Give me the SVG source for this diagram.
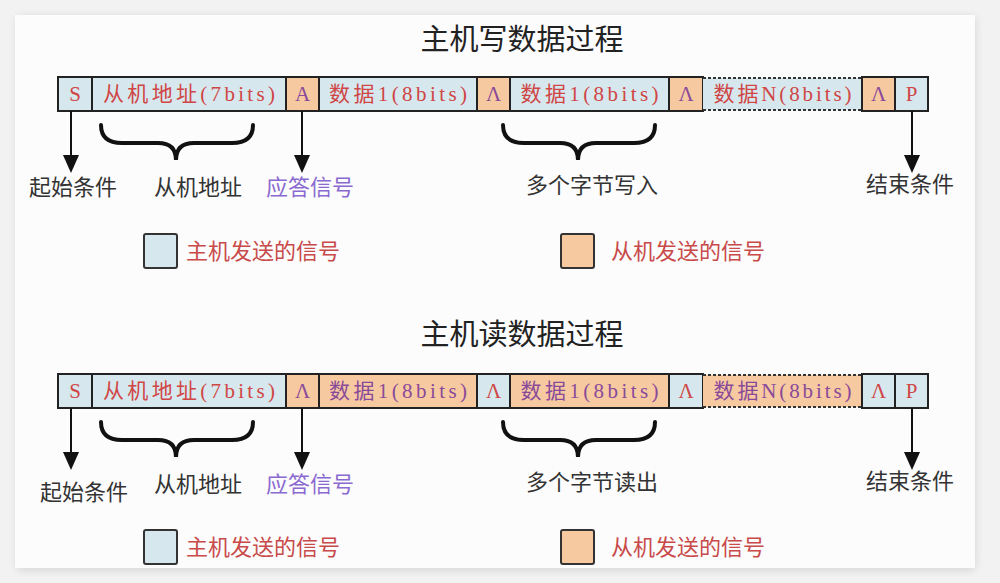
<svg xmlns="http://www.w3.org/2000/svg" width="1000" height="583" viewBox="0 0 1000 583">
<defs>
<style>
.m{fill:#d6e8ee;stroke:#222;stroke-width:2}
.s{fill:#f6c9a0;stroke:#222;stroke-width:2}
.dash{stroke:#333;stroke-width:2;stroke-dasharray:3 2;fill:none}
.bt{font-family:"Liberation Serif","Noto Sans CJK SC",serif;font-size:21px;text-anchor:middle}
.r{fill:#d04545}
.p{fill:#8a4a9a}
.lb{font-family:"Noto Sans CJK SC",sans-serif;font-size:22px;fill:#333;text-anchor:middle}
.pl{fill:#8a6ad0}
.lg{font-family:"Noto Sans CJK SC",sans-serif;font-size:22px;fill:#c84a4a}
.ti{font-family:"Noto Sans CJK SC",sans-serif;font-size:29px;fill:#222;text-anchor:middle}
.ln{stroke:#111;stroke-width:2;fill:none}
.ah{fill:#111}
.br{stroke:#111;stroke-width:4;fill:none;stroke-linecap:round}
</style>
<filter id="sh" x="-5%" y="-5%" width="110%" height="110%"><feGaussianBlur stdDeviation="5"/></filter>
</defs>
<rect width="1000" height="583" fill="#f2f2f2"/>
<rect x="17" y="17" width="958" height="553" fill="#000" opacity="0.12" filter="url(#sh)"/>
<rect x="15" y="15" width="960" height="553" fill="#fcfcfc"/>

<text class="ti" x="522" y="50">主机写数据过程</text>
<text class="ti" x="522" y="345">主机读数据过程</text>

<g id="write-bar">
<rect class="m" x="58" y="77" width="34" height="34"/><text class="bt r" x="75" y="101">S</text>
<rect class="m" x="92" y="77" width="194" height="34"/><text class="bt r" x="189" y="101" textLength="172" lengthAdjust="spacing">从机地址(7bits)</text>
<rect class="s" x="286" y="77" width="33" height="34"/><text class="bt p" x="302.5" y="101">A</text>
<rect class="m" x="319" y="77" width="158" height="34"/><text class="bt r" x="398" y="101" textLength="138" lengthAdjust="spacing">数据1(8bits)</text>
<rect class="s" x="477" y="77" width="33" height="34"/><text class="bt p" x="493.5" y="101">Λ</text>
<rect class="m" x="510" y="77" width="159" height="34"/><text class="bt r" x="589.5" y="101" textLength="138" lengthAdjust="spacing">数据1(8bits)</text>
<rect class="s" x="669" y="77" width="34" height="34"/><text class="bt p" x="686" y="101">Λ</text>
<rect x="703" y="78" width="159" height="32" fill="#d6e8ee"/><path class="dash" d="M703,78 H862 M703,110 H862"/><text class="bt r" x="782.5" y="101" textLength="138" lengthAdjust="spacing">数据N(8bits)</text>
<rect class="s" x="862" y="77" width="33" height="34"/><text class="bt p" x="878.5" y="101">Λ</text>
<rect class="m" x="895" y="77" width="33" height="34"/><text class="bt r" x="911.5" y="101">P</text>
</g>

<g id="read-bar">
<rect class="m" x="58" y="374" width="34" height="34"/><text class="bt r" x="75" y="398">S</text>
<rect class="m" x="92" y="374" width="194" height="34"/><text class="bt r" x="189" y="398" textLength="172" lengthAdjust="spacing">从机地址(7bits)</text>
<rect class="s" x="286" y="374" width="33" height="34"/><text class="bt p" x="302.5" y="398">Λ</text>
<rect class="s" x="319" y="374" width="158" height="34"/><text class="bt p" x="398" y="398" textLength="138" lengthAdjust="spacing">数据1(8bits)</text>
<rect class="m" x="477" y="374" width="33" height="34"/><text class="bt r" x="493.5" y="398">Λ</text>
<rect class="s" x="510" y="374" width="159" height="34"/><text class="bt p" x="589.5" y="398" textLength="138" lengthAdjust="spacing">数据1(8bits)</text>
<rect class="m" x="669" y="374" width="34" height="34"/><text class="bt r" x="686" y="398">Λ</text>
<rect x="703" y="375" width="159" height="32" fill="#f6c9a0"/><path class="dash" d="M703,375 H862 M703,407 H862"/><text class="bt p" x="782.5" y="398" textLength="138" lengthAdjust="spacing">数据N(8bits)</text>
<rect class="m" x="862" y="374" width="33" height="34"/><text class="bt r" x="878.5" y="398">Λ</text>
<rect class="m" x="895" y="374" width="33" height="34"/><text class="bt r" x="911.5" y="398">P</text>
</g>

<g id="connectors">
<path class="ln" d="M71,111 V158"/><path class="ah" d="M63,155 L79,155 L71,173 Z"/>
<path class="ln" d="M302,111 V158"/><path class="ah" d="M294,155 L310,155 L302,173 Z"/>
<path class="ln" d="M912,111 V158"/><path class="ah" d="M904,155 L920,155 L912,173 Z"/>
<path class="ln" d="M71,408 V455"/><path class="ah" d="M63,452 L79,452 L71,470 Z"/>
<path class="ln" d="M302,408 V455"/><path class="ah" d="M294,452 L310,452 L302,470 Z"/>
<path class="ln" d="M912,408 V455"/><path class="ah" d="M904,452 L920,452 L912,470 Z"/>
</g>

<g id="braces">
<path class="br" d="M101,125 Q101,143 122,143 L158,143 Q176,143 176,160 Q176,143 194,143 L232,143 Q253,143 253,125"/>
<path class="br" d="M503,125 Q503,143 524,143 L560,143 Q578,143 578,160 Q578,143 596,143 L634,143 Q655,143 655,125"/>
<path class="br" d="M101,422 Q101,440 122,440 L158,440 Q176,440 176,457 Q176,440 194,440 L232,440 Q253,440 253,422"/>
<path class="br" d="M503,422 Q503,440 524,440 L560,440 Q578,440 578,457 Q578,440 596,440 L634,440 Q655,440 655,422"/>
</g>

<g id="labels-write">
<text class="lb" x="73" y="195">起始条件</text>
<text class="lb" x="198" y="195">从机地址</text>
<text class="lb pl" x="310" y="195">应答信号</text>
<text class="lb" x="592" y="193">多个字节写入</text>
<text class="lb" x="910" y="192">结束条件</text>
</g>
<g id="labels-read">
<text class="lb" x="84" y="500">起始条件</text>
<text class="lb" x="198" y="492">从机地址</text>
<text class="lb pl" x="310" y="492">应答信号</text>
<text class="lb" x="592" y="490">多个字节读出</text>
<text class="lb" x="910" y="489">结束条件</text>
</g>

<g id="legend-write">
<rect x="144" y="234" width="33" height="34" rx="2" fill="#d6e8ee" stroke="#333" stroke-width="2"/>
<text class="lg" x="186" y="259">主机发送的信号</text>
<rect x="561" y="234" width="33" height="34" rx="2" fill="#f6c9a0" stroke="#333" stroke-width="2"/>
<text class="lg" x="611" y="259">从机发送的信号</text>
</g>
<g id="legend-read">
<rect x="144" y="530" width="33" height="34" rx="2" fill="#d6e8ee" stroke="#333" stroke-width="2"/>
<text class="lg" x="186" y="555">主机发送的信号</text>
<rect x="561" y="530" width="33" height="34" rx="2" fill="#f6c9a0" stroke="#333" stroke-width="2"/>
<text class="lg" x="611" y="555">从机发送的信号</text>
</g>
</svg>
